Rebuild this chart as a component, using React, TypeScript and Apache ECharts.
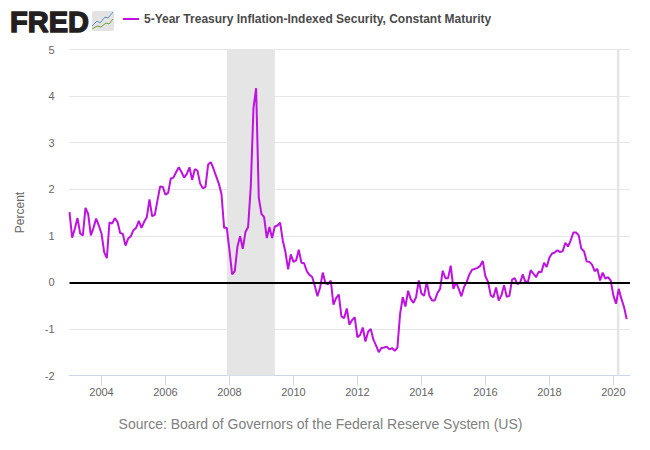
import React, { useEffect, useRef } from "react";
import * as echarts from "echarts";

const seriesName = "5-Year Treasury Inflation-Indexed Security, Constant Maturity";
const sourceText = "Source: Board of Governors of the Federal Reserve System (US)";
const startYear = 2003;
const yearlyValues: number[][] = [
  [1.51, 0.96, 1.15, 1.38, 1.05, 1.01, 1.6, 1.47, 1.01, 1.17, 1.37, 1.22],
  [1.05, 0.65, 0.52, 1.29, 1.26, 1.38, 1.3, 1.06, 1.04, 0.79, 0.94, 0.99],
  [1.12, 1.17, 1.32, 1.17, 1.3, 1.4, 1.78, 1.42, 1.45, 1.76, 2.06, 2.05],
  [1.88, 1.92, 2.23, 2.25, 2.37, 2.47, 2.37, 2.25, 2.33, 2.47, 2.2, 2.43],
  [2.4, 2.12, 2.02, 2.05, 2.53, 2.58, 2.44, 2.28, 2.12, 1.9, 1.17, 1.17],
  [0.69, 0.17, 0.24, 0.77, 0.99, 0.72, 1.08, 1.19, 2.06, 3.74, 4.17, 1.82],
  [1.47, 1.4, 0.95, 1.19, 0.95, 1.2, 1.22, 1.28, 0.9, 0.65, 0.28, 0.6],
  [0.44, 0.47, 0.7, 0.42, 0.41, 0.24, 0.16, 0.12, -0.07, -0.3, -0.11, 0.21],
  [-0.02, -0.04, 0.04, -0.48, -0.34, -0.26, -0.73, -0.77, -0.56, -0.91, -0.81, -0.75],
  [-1.18, -1.13, -0.97, -1.27, -1.06, -1.0, -1.23, -1.36, -1.5, -1.41, -1.4, -1.38],
  [-1.44, -1.41, -1.47, -1.4, -0.68, -0.32, -0.52, -0.18, -0.36, -0.44, -0.32, 0.04],
  [-0.24, -0.29, 0.01, -0.29, -0.39, -0.39, -0.23, -0.14, 0.25, 0.09, 0.09, 0.36],
  [-0.14, 0.0, -0.14, -0.3, -0.1, 0.01, 0.17, 0.27, 0.29, 0.31, 0.35, 0.46],
  [0.13, 0.01, -0.28, -0.32, -0.11, -0.39, -0.28, -0.06, -0.31, -0.29, 0.06, 0.09],
  [-0.04, -0.01, 0.17, 0.01, 0.02, 0.26, 0.19, 0.11, 0.23, 0.22, 0.42, 0.33],
  [0.53, 0.62, 0.64, 0.69, 0.65, 0.67, 0.85, 0.77, 0.9, 1.07, 1.07, 1.01],
  [0.72, 0.67, 0.45, 0.44, 0.38, 0.24, 0.29, 0.04, 0.21, 0.08, 0.11, 0.04],
  [-0.28, -0.46, -0.14, -0.35, -0.53, -0.79],
];
const tickYears = [2004, 2006, 2008, 2010, 2012, 2014, 2016, 2018, 2020];
// start and end of the shaded recessions, in decimal years
const recessions: [number, number][] = [
  [2007.917, 2009.417],
  [2020.11, 2020.19],
];

const FONT = "'Liberation Sans', Arial, sans-serif";
const LINE = "#bf11e0";

export default function App() {
  const ref = useRef<HTMLDivElement>(null);
  useEffect(() => {
    const chart = echarts.init(ref.current!, undefined, { renderer: "svg" });
    const points: [number, number][] = [];
    yearlyValues.forEach((vals, yi) =>
      vals.forEach((v, m) => points.push([startYear + yi + m / 12, v]))
    );
    chart.setOption({
      animation: false,
      backgroundColor: "#ffffff",
      textStyle: { fontFamily: FONT },
      grid: { left: 69.5, right: 20, top: 49.5, height: 326, containLabel: false },
      legend: {
        show: true,
        left: 123,
        top: 13,
        padding: 0,
        itemWidth: 16,
        itemHeight: 2,
        itemGap: 5,
        icon: "rect",
        data: [seriesName],
        textStyle: { fontFamily: FONT, fontSize: 12, fontWeight: "bold", color: "#4a4a4a" },
      },
      xAxis: {
        type: "value",
        min: startYear,
        max: 2020.52,
        splitLine: { show: false },
        axisLine: { show: true, onZero: false, lineStyle: { color: "#ccd6eb", width: 1 } },
        axisTick: { show: true, length: 10, customValues: tickYears, lineStyle: { color: "#ccd6eb" } },
        axisLabel: {
          customValues: tickYears,
          margin: 11,
          fontSize: 11,
          color: "#666666",
          fontFamily: FONT,
          hideOverlap: false,
          formatter: (v: number) => String(v),
        },
      },
      yAxis: {
        type: "value",
        min: -2,
        max: 5,
        interval: 1,
        name: "Percent",
        nameLocation: "middle",
        nameGap: 44,
        nameRotate: 90,
        nameTextStyle: { fontSize: 12, color: "#666666", fontFamily: FONT },
        axisLine: { show: false },
        axisTick: { show: false },
        axisLabel: { fontSize: 11, color: "#666666", margin: 15, fontFamily: FONT },
        splitLine: { show: true, lineStyle: { color: "#e6e6e6", width: 1 } },
      },
      series: [
        {
          name: seriesName,
          type: "line",
          data: points,
          showSymbol: false,
          symbol: "none",
          smooth: false,
          clip: true,
          lineStyle: { color: LINE, width: 2 },
          itemStyle: { color: LINE },
          markArea: {
            silent: true,
            itemStyle: { color: "#e5e5e5" },
            data: recessions.map(([a, b]) => [{ xAxis: a }, { xAxis: b }]),
          },
          markLine: {
            silent: true,
            symbol: "none",
            label: { show: false },
            lineStyle: { color: "#000000", width: 2, type: "solid" },
            data: [{ yAxis: 0 }],
          },
        },
      ],
      graphic: [
        {
          type: "text",
          x: 10,
          y: 7,
          style: {
            text: "FRED",
            font: "bold 29px 'Liberation Sans', Arial, sans-serif",
            fill: "#231f20",
            stroke: "#231f20",
            lineWidth: 1.4,
          },
        },
        {
          type: "rect",
          shape: { x: 92, y: 11, width: 22, height: 20, r: 2 },
          style: { fill: "#e3e3e3" },
        },
        {
          type: "polyline",
          shape: { points: [[92, 26], [97, 21], [100, 23], [105, 17], [108, 18], [113, 12]] },
          style: { stroke: "#5c93bd", lineWidth: 1, fill: "none" },
        },
        {
          type: "polyline",
          shape: { points: [[92, 29], [97, 26], [101, 27], [106, 23], [109, 24], [113, 19]] },
          style: { stroke: "#6f9e3c", lineWidth: 1, fill: "none" },
        },
        {
          type: "text",
          x: 320.5,
          y: 424,
          style: {
            text: sourceText,
            font: "14px 'Liberation Sans', Arial, sans-serif",
            fill: "#808080",
            textAlign: "center",
            textVerticalAlign: "middle",
          },
        },
      ],
    });
    return () => chart.dispose();
  }, []);
  return (
    <div
      ref={ref}
      style={{ position: "absolute", left: 0, top: 0, width: 650, height: 450 }}
    />
  );
}
